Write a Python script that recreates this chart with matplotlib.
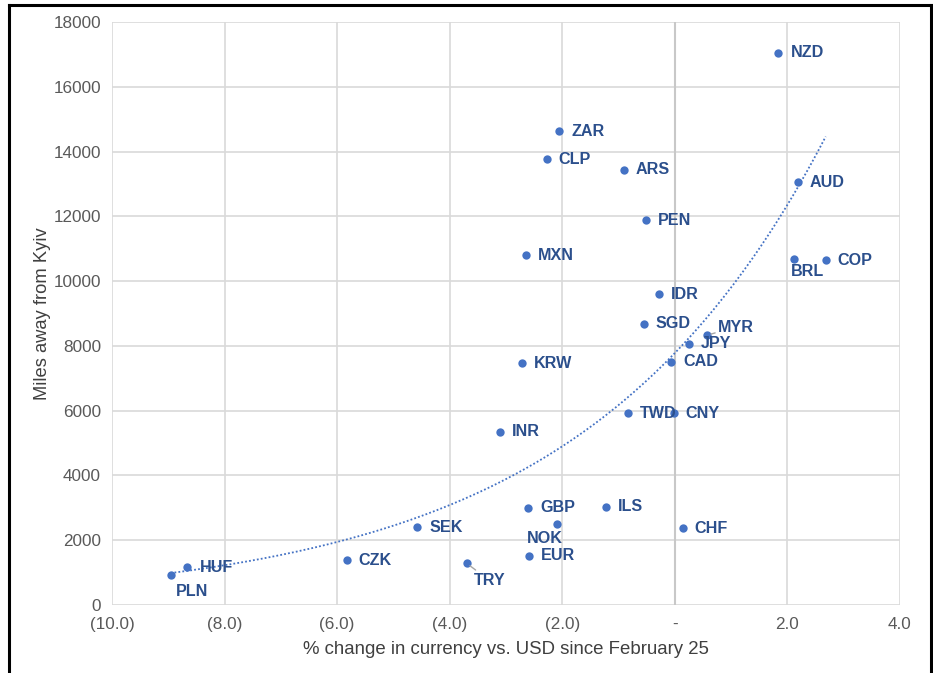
import numpy as np
import matplotlib.pyplot as plt
from matplotlib.lines import Line2D
from matplotlib.ticker import FuncFormatter, MultipleLocator

plt.rcParams['font.family'] = ['Liberation Sans', 'DejaVu Sans']

currencies = ['NZD', 'ZAR', 'CLP', 'ARS', 'AUD', 'PEN', 'MXN', 'BRL', 'COP', 'IDR',
              'SGD', 'MYR', 'JPY', 'CAD', 'KRW', 'TWD', 'CNY', 'INR', 'GBP', 'ILS',
              'NOK', 'SEK', 'CHF', 'EUR', 'CZK', 'TRY', 'HUF', 'PLN']
pct_change = [1.84, -2.05, -2.28, -0.91, 2.18, -0.51, -2.64, 2.12, 2.68, -0.28,
              -0.55, 0.57, 0.25, -0.07, -2.72, -0.83, -0.02, -3.11, -2.61, -1.23,
              -2.09, -4.58, 0.14, -2.59, -5.83, -3.70, -8.66, -8.96]
miles = [17065, 14640, 13760, 13440, 13050, 11880, 10800, 10690, 10650, 9600,
         8690, 8330, 8060, 7510, 7460, 5910, 5910, 5345, 3000, 3030,
         2500, 2400, 2360, 1515, 1380, 1280, 1155, 915]

# label offsets in pixels (default: right of the point)
special = {
    'BRL': (-3, -13, 'left'),
    'PLN': (5, -16, 'left'),
    'NOK': (-12, -15, 'center'),
    'TRY': (7, -17, 'left'),
    'MYR': (11, 8, 'left'),
}
with_leader = ['TRY', 'MYR']

dot_color = '#4472C4'
label_color = '#2B4F8C'

fig = plt.figure(figsize=(9.33, 6.73), dpi=100)
ax = fig.add_axes([112 / 933, 1 - 604.7 / 673, 788 / 933, 582.4 / 673])

ax.scatter(pct_change, miles, s=36, color=dot_color, zorder=3, linewidths=0)

# exponential trendline
x = np.array(pct_change)
y = np.array(miles)
b, ln_a = np.polyfit(x, np.log(y), 1)
xs = np.linspace(x.min(), x.max(), 200)
ax.plot(xs, np.exp(ln_a) * np.exp(b * xs), color=dot_color, lw=1.3,
        linestyle=(0, (1, 1.2)), zorder=2)

for name, px, py in zip(currencies, pct_change, miles):
    dx, dy, ha = special.get(name, (12, 0, 'left'))
    arrow = None
    if name in with_leader:
        arrow = dict(arrowstyle='-', color='#A6A6A6', lw=1,
                     shrinkA=0, shrinkB=3)
    ax.annotate(name, (px, py), xytext=(dx, dy), textcoords='offset pixels',
                ha=ha, va='center', fontsize=11.6, fontweight='bold',
                color=label_color, arrowprops=arrow, zorder=4)

ax.set_xlim(-10, 4)
ax.set_ylim(0, 18000)
ax.xaxis.set_major_locator(MultipleLocator(2))
ax.yaxis.set_major_locator(MultipleLocator(2000))


def fmt_x(v, pos):
    if abs(v) < 1e-9:
        return '-'
    if v < 0:
        return '({:.1f})'.format(-v)
    return '{:.1f}'.format(v)


ax.xaxis.set_major_formatter(FuncFormatter(fmt_x))
ax.grid(True, color='#D9D9D9', lw=1.2)
ax.axvline(0, color='#C8C8C8', lw=1.5, zorder=1)
ax.set_axisbelow(True)
for s in ax.spines.values():
    s.set_visible(False)
ax.tick_params(length=0, labelsize=12.3, labelcolor='#595959')
ax.tick_params(axis='x', pad=9)
ax.tick_params(axis='y', pad=8)

ax.set_xlabel('% change in currency vs. USD since February 25', fontsize=13.4,
              color='#404040', labelpad=6)
ax.set_ylabel('Miles away from Kyiv', fontsize=13.2, color='#404040', labelpad=1.5)

# black frame around the figure (no bottom edge)
for xy in [([9 / 933, 9 / 933], [0, 1 - 5 / 673]),
           ([9 / 933, 931 / 933], [1 - 5 / 673, 1 - 5 / 673]),
           ([931 / 933, 931 / 933], [1 - 5 / 673, 0])]:
    fig.add_artist(Line2D(xy[0], xy[1], color='black', lw=2.2,
                          transform=fig.transFigure))

fig.savefig('out.png', dpi=100)
